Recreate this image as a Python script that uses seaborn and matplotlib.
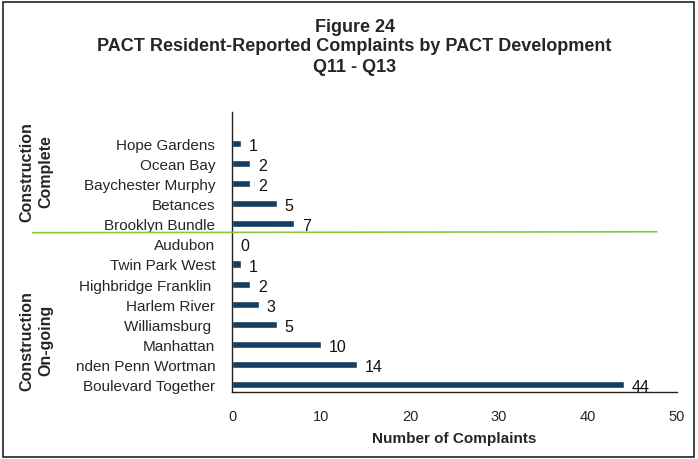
import matplotlib
matplotlib.use("Agg")
import matplotlib.pyplot as plt
import pandas as pd
import seaborn as sns
from matplotlib.lines import Line2D
from matplotlib.patches import Rectangle

developments = ["Hope Gardens", "Ocean Bay", "Baychester Murphy", "Betances", "Brooklyn Bundle",
                "Audubon", "Twin Park West", "Highbridge Franklin ", "Harlem River", "Williamsburg ",
                "Manhattan", "nden Penn Wortman", "Boulevard Together"]
complaints = [1, 2, 2, 5, 7, 0, 1, 2, 3, 5, 10, 14, 44]
x_ticks = [0, 10, 20, 30, 40, 50]

sns.set_theme(style="white")
plt.rcParams["font.family"] = ["Liberation Sans Narrow", "Liberation Sans", "DejaVu Sans"]

df = pd.DataFrame({"dev": developments, "n": complaints})
BAR = "#123f63"

fig = plt.figure(figsize=(6.98, 4.6), dpi=100)
ax = fig.add_axes([0.3324, 0.1457, 0.6376, 0.6086])
sns.barplot(data=df, y="dev", x="n", orient="h", color=BAR, width=0.35,
            saturation=1, ax=ax)

for i, v in enumerate(complaints):
    ax.text(v + 0.9, i + 0.1, str(v), va="center", ha="left", fontsize=11.5, color="#111")

ax.set_xlim(0, 50)
ax.set_ylim(12.35, -1.54)
ax.set_xticks(x_ticks)
ax.tick_params(axis="x", labelsize=10.5, length=0, pad=12)
ax.tick_params(axis="y", labelsize=11, length=0, pad=12)
ax.set_ylabel("")
ax.set_xlabel("Number of Complaints", fontsize=11, fontweight="bold", labelpad=6)
for s in ["top", "right"]:
    ax.spines[s].set_visible(False)
for s in ["left", "bottom"]:
    ax.spines[s].set_color("#222")
    ax.spines[s].set_linewidth(1.0)

fig.text(0.508, 0.941, "Figure 24", ha="center", va="center", fontsize=13, fontweight="bold")
fig.text(0.508, 0.898, "PACT Resident-Reported Complaints by PACT Development",
         ha="center", va="center", fontsize=13, fontweight="bold")
fig.text(0.508, 0.854, "Q11 - Q13", ha="center", va="center", fontsize=13, fontweight="bold")

fig.text(0.052, 0.626, "Construction\nComplete", rotation=90, ha="center", va="center",
         fontsize=11.5, fontweight="bold", linespacing=1.4)
fig.text(0.052, 0.259, "Construction\nOn-going", rotation=90, ha="center", va="center",
         fontsize=11.5, fontweight="bold", linespacing=1.4)

fig.add_artist(Line2D([0.047, 0.941], [0.492, 0.494], color="#8cc63f", lw=1.2,
                      transform=fig.transFigure))
fig.add_artist(Rectangle((0.005, 0.004), 0.989, 0.989, fill=False, ec="#222", lw=1.2,
                         transform=fig.transFigure))

fig.savefig("out.png", dpi=100)
